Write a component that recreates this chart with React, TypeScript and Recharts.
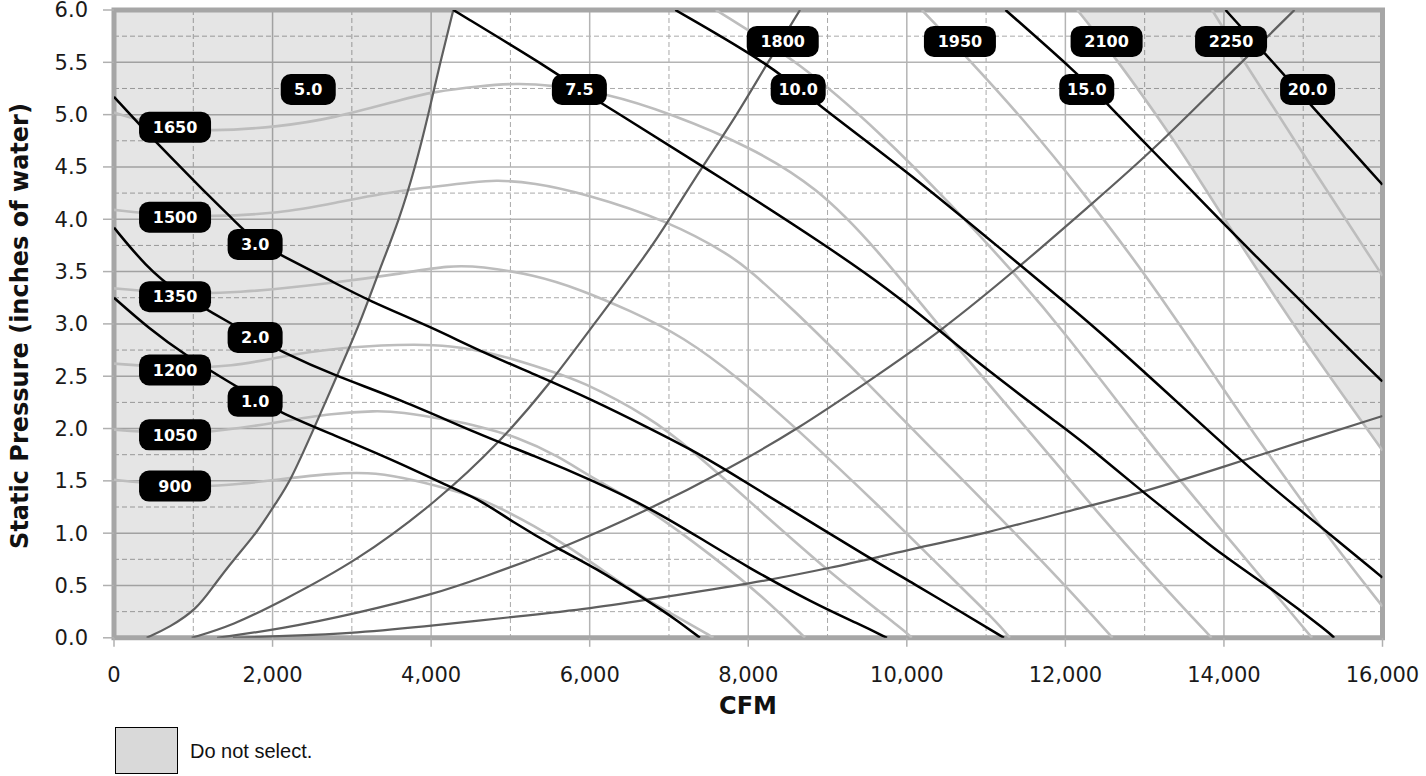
import React from 'react';
import {
  ComposedChart,
  Line,
  Area,
  Scatter,
  XAxis,
  YAxis,
  CartesianGrid,
  ReferenceArea,
} from 'recharts';

// ---------- axes ----------
const xTicks = [0, 2000, 4000, 6000, 8000, 10000, 12000, 14000, 16000];
const yTicks = [0, 0.5, 1, 1.5, 2, 2.5, 3, 3.5, 4, 4.5, 5, 5.5, 6];
const xMinor = [1000, 3000, 5000, 7000, 9000, 11000, 13000, 15000];
const yMinor = [0.25, 0.75, 1.25, 1.75, 2.25, 2.75, 3.25, 3.75, 4.25, 4.75, 5.25, 5.75];
const X_DOMAIN: [number, number] = [0, 16000];
const Y_DOMAIN: [number, number] = [0, 6];

// ---------- system curves [CFM, in. water] ----------
const sysA: [number, number][] = [
  [412, 0], [700, 0.1], [1040, 0.27], [1250, 0.49], [1500, 0.74], [1800, 1.0], [2050, 1.3],
  [2220, 1.49], [2510, 1.98], [2810, 2.5], [3100, 3.0], [3340, 3.5], [3600, 4.0], [3800, 4.5],
  [3965, 5.0], [4115, 5.5], [4280, 6.0],
];
const sysB: [number, number][] = [
  [980, 0], [1500, 0.12], [2100, 0.345], [3060, 0.73], [4070, 1.3], [4870, 1.87], [5500, 2.43],
  [6046, 2.99], [6761, 3.71], [6995, 3.99], [7419, 4.5], [7860, 5.0], [8215, 5.46], [8653, 6.0],
];
const sysC: [number, number][] = [
  [1300, 0], [2103, 0.084], [3061, 0.234], [4070, 0.425], [4616, 0.569], [5626, 0.846],
  [6761, 1.23], [7728, 1.604], [8611, 1.99], [9494, 2.44], [10434, 2.93], [11443, 3.56],
  [12321, 4.14], [13110, 4.66], [14245, 5.52], [14890, 6.0],
];
const sysD: [number, number][] = [
  [1500, 0], [2103, 0.015], [3061, 0.045], [4070, 0.12], [5037, 0.2], [6038, 0.282],
  [6845, 0.378], [8039, 0.52], [9031, 0.664], [10006, 0.839], [11049, 1.008], [12008, 1.206],
  [12996, 1.393], [14005, 1.636], [15044, 1.891], [16000, 2.12],
];

// ---------- brake horsepower curves ----------
const hp1: [number, number][] = [
  [0, 3.25], [450, 2.95], [900, 2.7], [1500, 2.42], [1780, 2.3], [2094, 2.15], [2766, 1.94],
  [3607, 1.67], [4238, 1.44], [4616, 1.32], [5000, 1.12], [5626, 0.84], [6046, 0.68],
  [6719, 0.36], [7100, 0.17], [7390, 0],
];
const hp2: [number, number][] = [
  [0, 3.92], [400, 3.55], [800, 3.3], [1211, 3.12], [1780, 2.87], [2100, 2.74], [2766, 2.51],
  [3607, 2.28], [4616, 1.94], [5300, 1.74], [6046, 1.5], [6761, 1.24], [7400, 0.95],
  [7981, 0.68], [8821, 0.33], [9400, 0.13], [9750, 0],
];
const hp3: [number, number][] = [
  [0, 5.17], [400, 4.84], [800, 4.53], [1200, 4.22], [1500, 4.0], [1780, 3.79], [2100, 3.66],
  [2766, 3.4], [3190, 3.23], [4028, 2.96], [4616, 2.74], [5300, 2.52], [6046, 2.27],
  [6761, 2.0], [7278, 1.8], [7728, 1.6], [8500, 1.24], [9535, 0.76], [10082, 0.52],
  [10700, 0.24], [11226, 0],
];
const hp75: [number, number][] = [
  [4280, 6.0], [5584, 5.4], [5866, 5.24], [6215, 5.08], [7701, 4.376], [9003, 3.738],
  [9783, 3.324], [10434, 2.926], [10955, 2.592], [12019, 1.986], [12256, 1.85], [12954, 1.41],
  [13238, 1.238], [14013, 0.768], [14648, 0.447], [15338, 0.043], [15390, 0],
];
const hp10: [number, number][] = [
  [7080, 6.0], [8317, 5.46], [8864, 5.1], [10141, 4.38], [11443, 3.55], [12384, 2.97],
  [13928, 1.89], [14648, 1.41], [15282, 1.025], [16000, 0.575],
];
const hp15: [number, number][] = [
  [11245, 6.0], [12143, 5.4], [12522, 5.11], [13027, 4.71], [13460, 4.376], [14275, 3.738],
  [15934, 2.496], [16000, 2.45],
];
const hp20: [number, number][] = [
  [14020, 6.0], [14500, 5.6], [15086, 5.1], [16000, 4.33],
];

// ---------- fan speed (RPM) curves ----------
const r900: [number, number][] = [
  [0, 1.51], [500, 1.47], [1085, 1.44], [1600, 1.47], [2094, 1.515], [2766, 1.572],
  [3200, 1.58], [3607, 1.54], [4238, 1.42], [4616, 1.33], [4869, 1.24], [5300, 1.07],
  [5710, 0.88], [6100, 0.68], [6593, 0.42], [7100, 0.2], [7520, 0.02], [7560, 0],
];
const r1050: [number, number][] = [
  [0, 1.99], [500, 1.96], [1211, 1.955], [2094, 2.066], [2766, 2.146], [3300, 2.17],
  [3607, 2.16], [4238, 2.08], [4616, 2.02], [5079, 1.92], [5600, 1.74], [6046, 1.52],
  [6719, 1.25], [7560, 0.775], [8190, 0.39], [8716, 0],
];
const r1200: [number, number][] = [
  [0, 2.62], [769, 2.58], [1500, 2.59], [2094, 2.687], [2766, 2.767], [3607, 2.805],
  [4238, 2.8], [4900, 2.7], [5500, 2.55], [5878, 2.46], [6761, 2.11], [7278, 1.8],
  [7981, 1.33], [9031, 0.616], [10019, 0.04], [10060, 0],
];
const r1350: [number, number][] = [
  [0, 3.34], [800, 3.29], [1505, 3.29], [2766, 3.39], [3607, 3.48], [4238, 3.56], [4616, 3.55],
  [5300, 3.47], [5878, 3.33], [6500, 3.13], [7180, 2.88], [7900, 2.47], [8611, 2.0],
  [9662, 1.253], [10503, 0.616], [11134, 0.154], [11300, 0],
];
const r1500: [number, number][] = [
  [0, 4.09], [600, 4.04], [1211, 4.025], [2094, 4.057], [2766, 4.153], [3607, 4.28],
  [4616, 4.36], [4784, 4.375], [5300, 4.35], [5920, 4.248], [6971, 3.993], [7812, 3.642],
  [8028, 3.5], [8500, 3.19], [9525, 2.42], [10166, 1.92], [11175, 1.15], [12000, 0.5],
  [12595, 0],
];
const r1650: [number, number][] = [
  [0, 5.02], [600, 4.88], [1211, 4.837], [2094, 4.885], [2766, 4.965], [3607, 5.14],
  [4028, 5.219], [4616, 5.274], [5079, 5.3], [5500, 5.283], [6215, 5.204], [7013, 5.013],
  [8022, 4.694], [8864, 4.311], [9620, 3.72], [10434, 2.95], [11642, 1.89], [12400, 1.2],
  [13166, 0.55], [13844, 0],
];
const r1800: [number, number][] = [
  [7590, 6.0], [8653, 5.5], [9704, 4.8], [10545, 4.15], [11281, 3.55], [11996, 2.92],
  [13050, 1.86], [14013, 0.99], [15111, 0],
];
const r1950: [number, number][] = [
  [10190, 6.0], [10758, 5.55], [11500, 4.93], [12200, 4.28], [13038, 3.45], [14015, 2.35],
  [14500, 1.82], [15282, 0.99], [16000, 0.3],
];
const r2100: [number, number][] = [
  [12150, 6.0], [12612, 5.57], [13369, 4.76], [13690, 4.38], [14293, 3.66], [15000, 2.85],
  [16000, 1.79],
];
const r2250: [number, number][] = [
  [13850, 6.0], [14225, 5.54], [15044, 4.57], [16000, 3.46],
];

// ---------- curve labels ----------
const rpmLabels = [
  { q: 770, p: 1.45, t: '900' },
  { q: 770, p: 1.94, t: '1050' },
  { q: 770, p: 2.56, t: '1200' },
  { q: 770, p: 3.26, t: '1350' },
  { q: 770, p: 4.02, t: '1500' },
  { q: 770, p: 4.88, t: '1650' },
  { q: 8435, p: 5.7, t: '1800' },
  { q: 10670, p: 5.7, t: '1950' },
  { q: 12520, p: 5.7, t: '2100' },
  { q: 14090, p: 5.7, t: '2250' },
];
const hpLabels = [
  { q: 1780, p: 2.26, t: '1.0' },
  { q: 1780, p: 2.87, t: '2.0' },
  { q: 1780, p: 3.76, t: '3.0' },
  { q: 2450, p: 5.24, t: '5.0' },
  { q: 5870, p: 5.24, t: '7.5' },
  { q: 8630, p: 5.24, t: '10.0' },
  { q: 12270, p: 5.24, t: '15.0' },
  { q: 15055, p: 5.24, t: '20.0' },
];

const toPts = (arr: [number, number][]) => arr.map(([q, p]) => ({ q, p }));
const shadeAbove = (arr: [number, number][]) => arr.map(([q, p]) => ({ q, r: [p, 6] }));

const leftShade = [{ q: 0, r: [0, 6] }, ...shadeAbove(sysA)];
const rightShade = shadeAbove(r2100);

const sysCurves = [sysA, sysB, sysC, sysD];
const hpCurves = [hp1, hp2, hp3, hp75, hp10, hp15, hp20];
const rpmCurves = [r900, r1050, r1200, r1350, r1500, r1650, r1800, r1950, r2100, r2250];

const allLabels = [...rpmLabels, ...hpLabels];

const FONT = '"DejaVu Sans", sans-serif';
const CURVE = 'basis';

// minor (dashed) grid positions, mapped through the axis scale when available
const minorVertical = (props: any) => {
  const sc = props?.xAxis?.scale;
  const off = props?.offset || {};
  return xMinor.map((v) =>
    typeof sc === 'function'
      ? sc(v)
      : off.left + ((v - X_DOMAIN[0]) / (X_DOMAIN[1] - X_DOMAIN[0])) * off.width
  );
};
const minorHorizontal = (props: any) => {
  const sc = props?.yAxis?.scale;
  const off = props?.offset || {};
  return yMinor.map((v) =>
    typeof sc === 'function'
      ? sc(v)
      : off.top + ((Y_DOMAIN[1] - v) / (Y_DOMAIN[1] - Y_DOMAIN[0])) * off.height
  );
};

const Badge = (props: any) => {
  const { cx, cy, payload } = props;
  if (cx == null || cy == null || !payload) return null;
  const w = payload.t.includes('.') ? 55 : 72;
  const h = 31;
  return (
    <g>
      <rect x={cx - w / 2} y={cy - h / 2} width={w} height={h} rx={10} ry={10} fill="#000" />
      <text
        x={cx}
        y={cy}
        dy="0.36em"
        textAnchor="middle"
        fill="#fff"
        fontFamily={FONT}
        fontWeight="bold"
        fontSize={16}
      >
        {payload.t}
      </text>
    </g>
  );
};

const tickStyle = { fontFamily: FONT, fontSize: 21, fill: '#1a1a1a' };

export default function App() {
  return (
    <div
      style={{
        position: 'absolute',
        left: 0,
        top: 0,
        width: 1426,
        height: 776,
        background: '#fff',
        overflow: 'hidden',
      }}
    >
      <ComposedChart
        width={1426}
        height={776}
        margin={{ top: 10, right: 43.5, bottom: 98.2, left: 0 }}
      >
        <XAxis
          dataKey="q"
          type="number"
          domain={X_DOMAIN}
          ticks={xTicks}
          interval={0}
          allowDataOverflow
          height={40}
          axisLine={false}
          tickLine={{ stroke: '#b0b0b0', strokeWidth: 1.5 }}
          tickSize={9}
          tickMargin={20}
          tick={tickStyle}
          tickFormatter={(v: number) => v.toLocaleString('en-US')}
        />
        <YAxis
          type="number"
          domain={Y_DOMAIN}
          ticks={yTicks}
          interval={0}
          allowDataOverflow
          width={114}
          axisLine={false}
          tickLine={{ stroke: '#b0b0b0', strokeWidth: 1.5 }}
          tickSize={11}
          tickMargin={15}
          tick={tickStyle}
          tickFormatter={(v: number) => v.toFixed(1)}
        />

        <CartesianGrid
          stroke="#a9a9a9"
          strokeWidth={1}
          strokeDasharray="5 3"
          verticalCoordinatesGenerator={minorVertical}
          horizontalCoordinatesGenerator={minorHorizontal}
        />
        <CartesianGrid stroke="#b4b4b4" strokeWidth={1.5} />

        <Area
          data={leftShade}
          dataKey="r"
          type={CURVE}
          stroke="none"
          fill="#000"
          fillOpacity={0.1}
          isAnimationActive={false}
          activeDot={false}
        />
        <Area
          data={rightShade}
          dataKey="r"
          type={CURVE}
          stroke="none"
          fill="#000"
          fillOpacity={0.1}
          isAnimationActive={false}
          activeDot={false}
        />

        {rpmCurves.map((c, i) => (
          <Line
            key={'rpm' + i}
            data={toPts(c)}
            dataKey="p"
            type={CURVE}
            stroke="#bdbdbd"
            strokeWidth={2.6}
            dot={false}
            activeDot={false}
            isAnimationActive={false}
          />
        ))}
        {sysCurves.map((c, i) => (
          <Line
            key={'sys' + i}
            data={toPts(c)}
            dataKey="p"
            type={CURVE}
            stroke="#5f5f5f"
            strokeWidth={2.2}
            dot={false}
            activeDot={false}
            isAnimationActive={false}
          />
        ))}
        {hpCurves.map((c, i) => (
          <Line
            key={'hp' + i}
            data={toPts(c)}
            dataKey="p"
            type={CURVE}
            stroke="#000"
            strokeWidth={2.5}
            dot={false}
            activeDot={false}
            isAnimationActive={false}
          />
        ))}

        <ReferenceArea
          x1={0}
          x2={16000}
          y1={0}
          y2={6}
          fill="none"
          fillOpacity={0}
          stroke="#a6a6a6"
          strokeWidth={5}
          ifOverflow="visible"
        />

        <Scatter
          data={allLabels}
          dataKey="p"
          shape={(p: any) => <Badge {...p} />}
          isAnimationActive={false}
        />
      </ComposedChart>

      <div
        style={{
          position: 'absolute',
          left: 20,
          top: 326,
          transform: 'translate(-50%, -50%) rotate(-90deg)',
          whiteSpace: 'nowrap',
          fontFamily: FONT,
          fontWeight: 'bold',
          fontSize: 24,
          lineHeight: 1,
          color: '#111',
        }}
      >
        Static Pressure (inches of water)
      </div>
      <div
        style={{
          position: 'absolute',
          left: 748,
          top: 706,
          transform: 'translate(-50%, -50%)',
          whiteSpace: 'nowrap',
          fontFamily: FONT,
          fontWeight: 'bold',
          fontSize: 24,
          lineHeight: 1,
          color: '#111',
        }}
      >
        CFM
      </div>
      <div
        style={{
          position: 'absolute',
          left: 115,
          top: 727,
          width: 61,
          height: 45,
          background: '#d9d9d9',
          border: '1px solid #000',
        }}
      />
      <div
        style={{
          position: 'absolute',
          left: 190,
          top: 751,
          transform: 'translateY(-50%)',
          whiteSpace: 'nowrap',
          fontFamily: '"Liberation Sans", Arial, sans-serif',
          fontSize: 20,
          lineHeight: 1,
          color: '#111',
        }}
      >
        Do not select.
      </div>
    </div>
  );
}
